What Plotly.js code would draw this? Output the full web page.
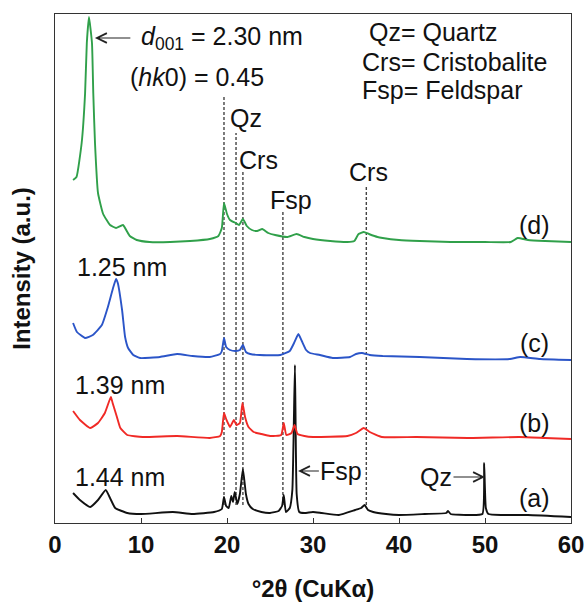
<!DOCTYPE html>
<html>
<head>
<meta charset="utf-8">
<script src="https://cdn.plot.ly/plotly-3.0.1.min.js"></script>
<style>html,body{margin:0;padding:0;background:#fff}#chart{width:585px;height:602px}</style>
</head>
<body>
<div id="chart"></div>
<script>
// 2θ (degrees) and intensity (a.u., relative to each pattern's own baseline)
const xD = [2.1,2.5,3.1,3.5,3.7,3.95,4.3,4.45,4.65,5.0,5.6,6.4,7.1,7.9,8.7,9.5,11,13.4,15.7,18.0,19.0,19.4,19.65,20.0,20.35,21.0,21.4,21.85,22.3,22.9,23.5,24.1,24.8,25.6,27.0,28.1,29.0,30.0,32.0,34.0,34.8,35.3,35.9,36.5,37.5,38.1,40,42.4,46,50,53.0,53.8,55,57,60];
const yD = [62,65,99,149,199,225,199,149,99,49,28,17,14,17,6,2,0,0,1,3,6,14,39,28,22,19,17,23,16,12,11,13,9,7,5,8,5,3,1,0,1,8,10,8,5,4,2,1,0,0,0,4,2,1,0];

const xC = [2.1,2.55,3.5,4.4,5.45,6.15,6.75,7.1,7.3,7.8,8.15,8.5,9.1,9.9,12.2,14.2,16.0,18.0,19.2,19.4,19.65,19.9,20.35,21.05,21.5,21.85,22.2,22.7,23.8,26.2,27.3,27.8,28.3,28.7,29.2,29.65,30.8,32.3,34.3,35.0,35.7,36.6,38.1,42.4,47.9,52.9,54.1,56.4,60];
const yC = [34,25,19,22,32,50,69,78,74,47,20,9,2,-1,0,3,1,0,3,6,19,10,7,6,7,12,5,3,2,2,6,14,23,16,7,4,2,-1,0,3,4,2,1,0,-2,-2,0,-2,-3];

const xB = [2.1,2.9,4.1,5.0,5.8,6.5,6.7,7.2,7.6,8.4,10.2,14.2,18.0,19.2,19.4,19.65,19.9,20.35,20.8,21.1,21.5,21.8,22.1,22.5,23.1,24.0,25.0,26.3,26.6,26.9,27.5,27.85,28.2,29.0,30.0,34.0,35.0,35.9,36.6,38.0,42,48,54,57,60];
const yB = [26,17,9,14,24,40,34,20,9,2,0,1,-1,1,5,24,18,10,17,12,14,34,20,10,5,3,1,2,14,2,4,12,3,1,0,1,4,9,5,0,0,-1,0,-1,-2];

const xA = [2.1,2.9,4.1,5.0,5.9,6.4,7.0,8.4,10,13.7,16,18.5,19.4,19.65,19.9,20.2,20.5,20.7,20.9,21.2,21.5,21.85,22.2,22.5,23.0,24,25,26.0,26.4,26.6,26.85,27.3,27.6,27.9,28.1,28.4,29,30,31,33,34.9,35.6,36.0,36.4,37,38.5,40,43,45.5,45.7,46,48,49.7,49.9,50.1,50.4,52,55,60];
const yA = [21,14,7,14,24,16,6,1,0,2,0,2,5,17,8,6,18,12,22,10,20,45,20,10,5,2,1,3,8,19,2,6,24,149,20,2,1,2,1,-1,4,6,9,4,2,0,-1,0,1,3,0,-1,0,51,6,0,-1,-1,-3];

const sampleNames = ["(a)","(b)","(c)","(d)"];
const baselines = [9, 86, 166, 281];   // vertical stacking offsets
const colors = ["#111111","#f02a26","#2b55c8","#30a04a"];
const seriesX = [xA, xB, xC, xD];
const seriesY = [yA, yB, yC, yD];

const traces = seriesX.map((xs, i) => ({
  x: xs,
  y: seriesY[i].map(v => v + baselines[i]),
  type: "scatter", mode: "lines", name: sampleNames[i],
  line: {color: colors[i], width: 1.9, shape: "spline", smoothing: 0.4},
  showlegend: false, hoverinfo: "x+name"
}));

// reference lines: positions (2θ) and top ends
const refX = [19.65, 21.05, 21.85, 26.5, 36.2];
const refTop = [428, 390, 351, 313, 336];
const shapes = refX.map((x, i) => ({
  type: "line", xref: "x", yref: "y", x0: x, x1: x, y0: 18, y1: refTop[i],
  line: {color: "#444", width: 1.4, dash: "3px,2px"}, layer: "below"
}));

const F = "Liberation Sans, Arial, sans-serif";
const fs = 25;
function txt(x, y, t, xanchor) {
  return {x: x, y: y, xref: "x", yref: "y", text: t, showarrow: false,
    xanchor: xanchor || "left", yanchor: "middle", font: {family: F, size: fs, color: "#111"}};
}
// label with an arrow: text centred at (xText, y), arrow head at xHead
function arrowTxt(xHead, xText, y, t, gap) {
  return {x: xHead, y: y, ax: xText, ay: y, xref: "x", yref: "y", axref: "x", ayref: "y",
    text: t, showarrow: true, arrowhead: 5, arrowsize: 1.6, arrowwidth: 1.2, arrowcolor: "#222",
    startstandoff: gap || 0, borderpad: 0, font: {family: F, size: fs, color: "#111"}};
}
const annotations = [
  txt(36.3, 491, "Qz= Quartz"),
  txt(35.5, 461, "Crs= Cristobalite"),
  txt(35.5, 433, "Fsp= Feldspar"),
  arrowTxt(4.65, 19.4, 485, "<i>d</i><sub>001</sub> = 2.30 nm", 10),
  txt(8.5, 446, "(<i>hk</i>0) = 0.45"),
  txt(22.2, 405, "Qz", "center"),
  txt(23.7, 363, "Crs", "center"),
  txt(27.4, 323, "Fsp", "center"),
  txt(36.5, 351, "Crs", "center"),
  txt(55.7, 298, "(d)", "center"),
  txt(55.7, 180, "(c)", "center"),
  txt(55.7, 100, "(b)", "center"),
  txt(55.7, 25, "(a)", "center"),
  txt(2.3, 256, "1.25 nm"),
  txt(2.1, 138, "1.39 nm"),
  txt(2.1, 46, "1.44 nm"),
  arrowTxt(28.26, 33.3, 52, "Fsp", 1),
  arrowTxt(50.0, 44.3, 46, "Qz", 1)
];

const layout = {
  width: 585, height: 602,
  margin: {l: 55, r: 14, t: 14, b: 79},
  paper_bgcolor: "#fff", plot_bgcolor: "#fff",
  font: {family: F, color: "#111"},
  xaxis: {
    range: [0, 60], dtick: 10, tick0: 0, ticks: "inside", ticklen: 5, tickcolor: "#333",
    showline: true, mirror: true, linecolor: "#333", linewidth: 1.2, showgrid: false, zeroline: false,
    tickfont: {family: F, size: 24, weight: "bold", color: "#111"},
    title: {text: "°2θ (CuKα)", font: {family: F, size: 24, weight: "bold", color: "#111"}, standoff: 26}
  },
  yaxis: {
    range: [0, 509], showticklabels: false, ticks: "", showline: true, mirror: true,
    linecolor: "#333", linewidth: 1.2, showgrid: false, zeroline: false,
    title: {text: "Intensity (a.u.)", font: {family: F, size: 24, weight: "bold", color: "#111"}, standoff: 16}
  },
  shapes: shapes,
  annotations: annotations
};

Plotly.newPlot("chart", traces, layout, {displayModeBar: false, staticPlot: true});
</script>
</body>
</html>
